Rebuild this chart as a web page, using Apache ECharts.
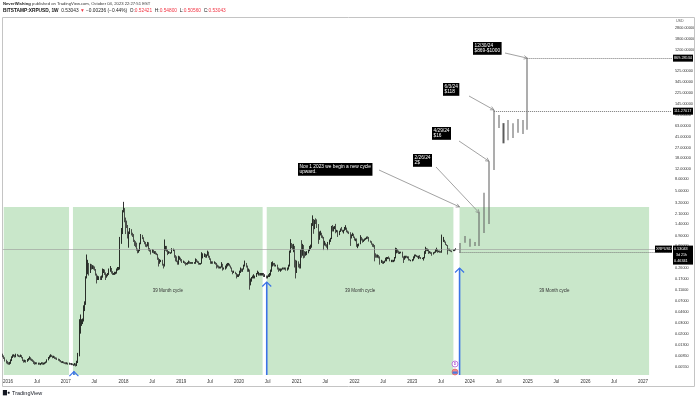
<!DOCTYPE html>
<html>
<head>
<meta charset="utf-8">
<script src="https://cdn.jsdelivr.net/npm/echarts@6/dist/echarts.min.js"></script>
<style>
  html, body { margin: 0; padding: 0; background: #fff; }
  #chart { width: 700px; height: 399px; }
</style>
</head>
<body>
<div id="chart"></div>
<script>
// BITSTAMP:XRPUSD weekly candles, one array per calendar year, each week is [close, high, low]
// (open of a week = close of the week before)
const firstOpen = 0.0088;
const yearStarts = ['2015-11-30', '2016-01-04', '2017-01-02', '2018-01-01', '2019-01-07',
    '2020-01-06', '2021-01-04', '2022-01-03', '2023-01-02'];

const w2015 = [[0.0084,0.0092,0.0080],[0.0079,0.0086,0.0075],[0.0072,0.0080,0.0068],[0.0067,0.0073,0.0063],[0.0064,0.0069,0.0061]];
const w2016 = [
    [0.0063,0.0066,0.0060],[0.0064,0.0067,0.0060],[0.0071,0.0074,0.0062],[0.0080,0.0083,0.0069],
    [0.0085,0.0089,0.0078],[0.0086,0.0090,0.0082],[0.0082,0.0088,0.0079],[0.0088,0.0092,0.0080],
    [0.0086,0.0091,0.0083],[0.0084,0.0088,0.0081],[0.0083,0.0086,0.0080],[0.0086,0.0089,0.0081],
    [0.0080,0.0087,0.0077],[0.0072,0.0081,0.0069],[0.0068,0.0073,0.0065],[0.0070,0.0073,0.0066],
    [0.0068,0.0072,0.0065],[0.0072,0.0075,0.0067],[0.0075,0.0078,0.0070],[0.0079,0.0083,0.0073],[0.0074,0.0080,0.0071],
    [0.0072,0.0076,0.0069],[0.0070,0.0074,0.0067],[0.0066,0.0071,0.0062],[0.0064,0.0068,0.0060],
    [0.0064,0.0066,0.0061],[0.0063,0.0066,0.0061],[0.0063,0.0065,0.0060],[0.0062,0.0065,0.0060],
    [0.0062,0.0064,0.0059],[0.0064,0.0066,0.0061],[0.0062,0.0066,0.0060],[0.0063,0.0065,0.0060],[0.0064,0.0066,0.0061],
    [0.0066,0.0068,0.0063],[0.0072,0.0074,0.0065],[0.0078,0.0081,0.0071],[0.0082,0.0086,0.0076],
    [0.0086,0.0090,0.0080],[0.0084,0.0088,0.0081],[0.0080,0.0085,0.0077],[0.0082,0.0085,0.0078],[0.0078,0.0083,0.0075],
    [0.0077,0.0080,0.0074],[0.0075,0.0079,0.0072],[0.0073,0.0076,0.0070],[0.0071,0.0075,0.0068],
    [0.0068,0.0072,0.0066],[0.0066,0.0069,0.0064],[0.0067,0.0069,0.0064],[0.0065,0.0068,0.0063],[0.0064,0.0066,0.0062]];
const w2017 = [
    [0.0063,0.0066,0.0061],[0.0064,0.0066,0.0061],[0.0062,0.0065,0.0060],[0.0063,0.0065,0.0060],[0.0062,0.0064,0.0060],
    [0.0062,0.0064,0.0059],[0.0061,0.0063,0.0059],[0.0060,0.0062,0.0057],[0.0062,0.0064,0.0058],
    [0.0059,0.0063,0.0056],[0.0066,0.0070,0.0057],[0.0085,0.0095,0.0064],[0.0220,0.0350,0.0083],
    [0.0300,0.0420,0.0200],[0.0310,0.0350,0.0270],[0.0330,0.0360,0.0290],[0.0530,0.0600,0.0320],
    [0.0630,0.0700,0.0480],[0.1750,0.1850,0.0610],[0.2400,0.4300,0.1700],[0.3000,0.3500,0.2000],[0.2200,0.3100,0.1900],
    [0.2800,0.3000,0.2100],[0.2600,0.2950,0.2400],[0.2700,0.2850,0.2450],[0.2600,0.2800,0.2400],
    [0.2400,0.2700,0.2300],[0.2000,0.2450,0.1900],[0.1700,0.2050,0.1400],[0.1700,0.1900,0.1600],[0.1800,0.1850,0.1600],
    [0.1700,0.1850,0.1600],[0.1800,0.1900,0.1600],[0.2300,0.2500,0.1750],[0.2300,0.2450,0.2100],
    [0.2100,0.2400,0.1950],[0.1800,0.2150,0.1600],[0.1900,0.2000,0.1750],[0.2000,0.2100,0.1850],
    [0.2300,0.2500,0.1950],[0.2500,0.2750,0.2200],[0.2200,0.2550,0.2050],[0.2000,0.2250,0.1950],[0.2000,0.2100,0.1950],
    [0.2100,0.2200,0.1950],[0.2100,0.2200,0.2000],[0.2400,0.2500,0.2050],[0.2500,0.2650,0.2300],
    [0.2500,0.2650,0.2350],[0.7500,0.8500,0.2400],[1.0500,1.2000,0.6500],[2.3000,2.4000,0.9500]];
const w2018 = [
    [2.50,3.31,2.20],[1.70,2.60,1.50],[1.50,1.80,0.95],[1.30,1.60,1.20],[0.85,1.35,0.80],
    [0.99,1.05,0.56],[1.10,1.20,0.95],[0.95,1.15,0.90],[0.90,1.00,0.85],
    [0.72,0.95,0.70],[0.68,0.76,0.60],[0.64,0.72,0.57],[0.51,0.68,0.50],
    [0.49,0.54,0.45],[0.50,0.52,0.46],[0.66,0.68,0.49],[0.85,0.95,0.64],[0.82,0.92,0.78],
    [0.72,0.84,0.70],[0.68,0.73,0.64],[0.62,0.70,0.58],[0.60,0.64,0.57],
    [0.68,0.70,0.59],[0.53,0.69,0.50],[0.50,0.55,0.48],[0.47,0.52,0.43],
    [0.51,0.53,0.46],[0.46,0.52,0.45],[0.48,0.49,0.44],[0.45,0.49,0.43],[0.43,0.46,0.42],
    [0.37,0.44,0.35],[0.31,0.38,0.27],[0.33,0.36,0.30],[0.33,0.35,0.32],
    [0.29,0.35,0.28],[0.27,0.30,0.25],[0.57,0.77,0.27],[0.58,0.60,0.50],
    [0.51,0.60,0.48],[0.46,0.52,0.42],[0.47,0.49,0.44],[0.46,0.48,0.45],[0.46,0.47,0.44],
    [0.50,0.55,0.45],[0.52,0.54,0.49],[0.42,0.52,0.38],[0.38,0.42,0.33],
    [0.33,0.40,0.32],[0.30,0.34,0.29],[0.37,0.41,0.29],[0.37,0.40,0.35],[0.36,0.38,0.33]];
const w2019 = [
    [0.32,0.36,0.31],[0.33,0.34,0.31],[0.31,0.33,0.30],[0.30,0.32,0.28],
    [0.30,0.31,0.29],[0.31,0.32,0.29],[0.33,0.34,0.30],[0.31,0.33,0.30],
    [0.31,0.32,0.30],[0.31,0.32,0.30],[0.31,0.32,0.30],[0.31,0.32,0.30],
    [0.35,0.37,0.30],[0.33,0.36,0.32],[0.32,0.34,0.31],[0.30,0.33,0.29],[0.30,0.31,0.29],
    [0.30,0.31,0.29],[0.41,0.47,0.30],[0.41,0.45,0.37],[0.43,0.45,0.39],
    [0.40,0.44,0.38],[0.42,0.43,0.38],[0.45,0.50,0.41],[0.40,0.48,0.38],
    [0.36,0.41,0.35],[0.32,0.37,0.30],[0.32,0.33,0.30],[0.31,0.33,0.30],[0.32,0.33,0.30],
    [0.30,0.32,0.29],[0.29,0.31,0.25],[0.27,0.29,0.26],[0.26,0.28,0.25],
    [0.26,0.27,0.25],[0.26,0.27,0.25],[0.30,0.32,0.26],[0.25,0.30,0.23],[0.25,0.26,0.24],
    [0.25,0.28,0.24],[0.29,0.30,0.25],[0.29,0.31,0.27],[0.29,0.31,0.28],
    [0.27,0.30,0.27],[0.26,0.28,0.25],[0.23,0.26,0.22],[0.22,0.23,0.20],
    [0.22,0.23,0.21],[0.20,0.22,0.20],[0.19,0.21,0.17],[0.19,0.20,0.18],[0.19,0.20,0.18]];
const w2020 = [
    [0.22,0.23,0.19],[0.24,0.26,0.21],[0.23,0.25,0.22],[0.24,0.25,0.22],
    [0.28,0.29,0.24],[0.30,0.34,0.27],[0.28,0.31,0.26],[0.23,0.28,0.22],
    [0.24,0.25,0.22],[0.16,0.24,0.11],[0.16,0.17,0.13],[0.17,0.18,0.15],[0.18,0.19,0.17],
    [0.18,0.20,0.17],[0.19,0.19,0.17],[0.20,0.21,0.18],[0.21,0.23,0.20],
    [0.21,0.22,0.19],[0.20,0.21,0.19],[0.20,0.21,0.19],[0.20,0.21,0.19],
    [0.20,0.21,0.19],[0.19,0.21,0.18],[0.19,0.20,0.18],[0.18,0.19,0.17],[0.18,0.19,0.17],
    [0.19,0.20,0.18],[0.20,0.21,0.18],[0.23,0.24,0.19],[0.30,0.32,0.22],
    [0.30,0.33,0.27],[0.29,0.31,0.28],[0.28,0.31,0.27],[0.29,0.29,0.27],[0.25,0.29,0.24],
    [0.24,0.26,0.22],[0.24,0.25,0.23],[0.24,0.25,0.22],[0.24,0.25,0.23],
    [0.25,0.26,0.24],[0.24,0.26,0.24],[0.25,0.26,0.24],[0.24,0.26,0.23],
    [0.25,0.26,0.23],[0.28,0.29,0.24],[0.48,0.50,0.27],[0.63,0.78,0.46],[0.61,0.67,0.55],
    [0.56,0.64,0.52],[0.58,0.65,0.47],[0.33,0.60,0.26],[0.22,0.35,0.17]];
const w2021 = [
    [0.30,0.34,0.21],[0.29,0.33,0.26],[0.27,0.30,0.25],[0.50,0.52,0.25],
    [0.42,0.75,0.38],[0.60,0.65,0.41],[0.48,0.62,0.37],[0.43,0.49,0.38],
    [0.45,0.48,0.41],[0.47,0.49,0.42],[0.50,0.52,0.45],[0.55,0.60,0.49],[0.58,0.63,0.53],
    [1.40,1.45,0.56],[1.60,1.96,1.30],[1.20,1.70,0.96],[1.55,1.65,1.15],
    [1.50,1.75,1.40],[1.35,1.68,1.20],[0.90,1.40,0.65],[0.95,1.05,0.76],[0.95,1.08,0.90],
    [0.88,1.00,0.82],[0.84,0.90,0.80],[0.65,0.85,0.51],[0.66,0.73,0.61],
    [0.62,0.68,0.59],[0.58,0.64,0.56],[0.65,0.70,0.51],[0.74,0.77,0.63],
    [0.80,0.82,0.70],[1.20,1.30,0.78],[1.10,1.35,1.05],[1.20,1.27,1.05],[1.20,1.30,1.15],
    [1.05,1.41,0.98],[1.08,1.12,1.02],[0.93,1.10,0.85],[1.05,1.08,0.91],
    [1.15,1.18,1.03],[1.10,1.25,1.08],[1.05,1.12,1.02],[1.10,1.12,0.97],
    [1.15,1.25,1.08],[1.23,1.34,1.12],[1.05,1.22,1.02],[1.03,1.09,0.98],[1.00,1.05,0.95],
    [0.90,1.02,0.60],[0.92,0.94,0.80],[0.93,1.00,0.88],[0.83,0.96,0.82]];
const w2022 = [
    [0.75,0.86,0.74],[0.77,0.80,0.72],[0.62,0.80,0.58],[0.62,0.65,0.55],[0.65,0.66,0.59],
    [0.82,0.91,0.64],[0.78,0.85,0.74],[0.72,0.80,0.68],[0.75,0.77,0.70],
    [0.78,0.80,0.73],[0.80,0.82,0.76],[0.83,0.86,0.78],[0.81,0.87,0.79],
    [0.73,0.85,0.71],[0.70,0.74,0.68],[0.64,0.72,0.63],[0.62,0.66,0.58],
    [0.60,0.65,0.57],[0.43,0.62,0.33],[0.41,0.45,0.38],[0.40,0.43,0.38],[0.41,0.43,0.38],
    [0.39,0.42,0.37],[0.32,0.40,0.29],[0.33,0.35,0.31],[0.31,0.34,0.30],
    [0.32,0.33,0.30],[0.32,0.34,0.31],[0.35,0.38,0.33],[0.37,0.39,0.33],
    [0.38,0.39,0.36],[0.37,0.40,0.36],[0.34,0.38,0.33],[0.34,0.35,0.32],[0.33,0.35,0.32],
    [0.33,0.35,0.32],[0.38,0.39,0.33],[0.49,0.56,0.37],[0.49,0.55,0.45],
    [0.48,0.53,0.46],[0.46,0.50,0.44],[0.46,0.48,0.44],[0.47,0.48,0.45],[0.39,0.48,0.38],
    [0.36,0.40,0.31],[0.40,0.41,0.35],[0.40,0.41,0.37],[0.39,0.41,0.38],
    [0.39,0.40,0.37],[0.35,0.40,0.34],[0.34,0.36,0.34],[0.34,0.35,0.33]];
const w2023 = [
    [0.35,0.36,0.33],[0.39,0.40,0.34],[0.41,0.43,0.37],[0.41,0.43,0.40],[0.40,0.42,0.39],
    [0.39,0.41,0.38],[0.40,0.41,0.36],[0.38,0.42,0.37],[0.37,0.39,0.36],
    [0.37,0.38,0.36],[0.37,0.39,0.34],[0.45,0.49,0.37],[0.54,0.58,0.44],
    [0.51,0.55,0.49],[0.52,0.54,0.49],[0.46,0.53,0.44],[0.48,0.49,0.45],
    [0.46,0.48,0.44],[0.43,0.47,0.41],[0.46,0.47,0.43],[0.47,0.48,0.45],[0.51,0.53,0.46],
    [0.52,0.56,0.48],[0.49,0.53,0.46],[0.49,0.50,0.47],[0.48,0.50,0.46],
    [0.47,0.49,0.46],[0.71,0.93,0.46],[0.75,0.85,0.70],[0.70,0.76,0.68],[0.63,0.71,0.62],
    [0.62,0.64,0.60],[0.53,0.62,0.43],[0.52,0.54,0.50],[0.51,0.54,0.49],
    [0.50,0.51,0.48],[0.49,0.50,0.47],[0.51,0.52,0.49],[0.52421,0.53,0.49],
    [0.53043,0.54800,0.50560]];
const yearWeeks = [w2015, w2016, w2017, w2018, w2019, w2020, w2021, w2022, w2023];

// projected path drawn on the chart (monthly bars, low / high)
const projDates = ['2023-11-01','2023-12-01','2024-01-01','2024-02-01','2024-03-01','2024-04-01','2024-05-01',
    '2024-06-01','2024-07-01','2024-08-01','2024-09-01','2024-10-01','2024-11-01','2024-12-01','2024-12-30'];
const projLow  = [0.46, 0.68, 0.58, 0.60, 0.60, 0.99, 1.4, 11.4, 58, 32, 36, 39.5, 48, 46, 54];
const projHigh = [0.67, 0.88, 0.79, 0.70, 2.15, 4.7, 16, 117, 96, 70, 79, 70, 82, 79, 869.28534];

// 39 month cycle boxes
const cycleStarts = ['2015-12-05', '2017-02-15', '2020-06-25', '2023-10-28'];
const cycleEnds   = ['2017-01-21', '2020-05-30', '2023-09-19', '2027-02-08'];
const cycleNames  = ['', '39 Month cycle', '39 Month cycle', '39 Month cycle'];
const cycleTop = 2.72;
const cycleArrows = [['2017-02-21', 0.0046], ['2020-06-25', 0.148], ['2023-10-28', 0.255]];

// axis ticks
const xTickDates = ['2016-01-01','2016-07-01','2017-01-01','2017-07-01','2018-01-01','2018-07-01','2019-01-01',
    '2019-07-01','2020-01-01','2020-07-01','2021-01-01','2021-07-01','2022-01-01','2022-07-01','2023-01-01',
    '2023-07-01','2024-01-01','2024-07-01','2025-01-01','2025-07-01','2026-01-01','2026-07-01','2027-01-01'];
const yTicks = [0.0055, 0.0085, 0.013, 0.02, 0.03, 0.046, 0.07, 0.11, 0.17, 0.26, 0.6, 0.9, 1.4, 2.1, 3.2,
    5, 8, 12, 18, 27, 41, 63, 95, 145, 225, 345, 525, 1200, 1800, 2800];

const lastClose = 0.53043;
const supportLevel = 0.46341;
const levels = [['2024-12-30', 869.28534], ['2024-06-01', 111.27017]];

const notes = [
    { lines: ['Nov 1 2023 we begin a new cycle', 'upward.'], box: [298, 163], from: [379, 170], tip: ['2023-10-28', 2.72] },
    { lines: ['2/26/24', '2$'], box: [413, 154], from: [436, 167], tip: ['2024-03-01', 2.15] },
    { lines: ['4/29/24', '$16'], box: [432, 127], from: [459, 141], tip: ['2024-05-01', 16] },
    { lines: ['6/3/24', '$118'], box: [443, 83], from: [469, 96], tip: ['2024-06-01', 117] },
    { lines: ['12/30/24', '$869-$1000'], box: [473, 42], from: [505, 53], tip: ['2024-12-30', 869.28534] }
];

const DAY = 864e5;
const FONT = 'Liberation Sans';
function ts(s) { return Date.parse(s + 'T00:00:00Z'); }
function lg(p) { return Math.log10(p); }

let candles = [];
let prev = firstOpen;
yearStarts.forEach(function (s, k) {
    yearWeeks[k].forEach(function (w, i) {
        candles.push([ts(s) + i * 7 * DAY, lg(prev), lg(w[0]), lg(w[2]), lg(w[1])]);
        prev = w[0];
    });
});
let proj = projDates.map(function (d, i) {
    return [ts(d), lg(projLow[i]), lg(projHigh[i]), lg(projLow[i]), lg(projHigh[i])];
});

const xMin = ts('2015-11-29'), xMax = ts('2027-07-03');
const yMin = -2.395, yMax = 3.615;

let chart = echarts.init(document.getElementById('chart'));
chart.setOption({
    animation: false,
    grid: { left: 2, right: 28, top: 18, bottom: 24 },
    xAxis: {
        type: 'value', min: xMin, max: xMax,
        axisLine: { show: false }, axisTick: { show: false }, splitLine: { show: false },
        axisLabel: {
            customValues: xTickDates.map(ts), margin: 4, fontSize: 4.5, color: '#333', fontFamily: FONT,
            formatter: function (v) {
                let d = new Date(v);
                return d.getUTCMonth() === 0 ? String(d.getUTCFullYear()) : 'Jul';
            }
        }
    },
    yAxis: {
        type: 'value', position: 'right', min: yMin, max: yMax,
        axisLine: { show: false }, axisTick: { show: false }, splitLine: { show: false },
        axisLabel: {
            customValues: yTicks.map(lg), margin: 3, align: 'left', fontSize: 3.8, color: '#333', fontFamily: FONT,
            formatter: function (v) { return Math.pow(10, v).toFixed(5); }
        }
    },
    series: [
        {
            type: 'candlestick', name: 'XRPUSD', data: candles, barWidth: 1.3,
            itemStyle: { color: '#000', color0: '#2a2a2a', borderColor: '#000', borderColor0: '#2a2a2a', borderWidth: 0.8 },
            markArea: {
                silent: true,
                itemStyle: { color: 'rgba(76,175,80,0.3)' },
                label: { position: 'inside', color: '#333', fontSize: 4.5, fontFamily: FONT },
                data: cycleStarts.map(function (s, i) {
                    return [{ name: cycleNames[i], xAxis: ts(s), yAxis: lg(cycleTop) }, { xAxis: ts(cycleEnds[i]), yAxis: yMin }];
                })
            },
            markLine: {
                silent: true, symbol: ['none', 'none'], label: { show: false },
                data: [
                    { yAxis: lg(lastClose), lineStyle: { type: 'solid', color: '#9a9a9a', width: 0.6 } },
                    [{ coord: [ts('2023-10-28'), lg(supportLevel)], lineStyle: { type: 'dotted', color: '#777', width: 1 } },
                     { coord: [xMax, lg(supportLevel)] }]
                ].concat(levels.map(function (l) {
                    return [{ coord: [ts(l[0]), lg(l[1])], lineStyle: { type: 'dotted', color: '#777', width: 1 } },
                            { coord: [xMax, lg(l[1])] }];
                }))
            }
        },
        {
            type: 'candlestick', name: 'projection', data: proj, barWidth: 1.6,
            itemStyle: { color: '#5c5c5c', color0: '#5c5c5c', borderColor: '#5c5c5c', borderColor0: '#5c5c5c', borderWidth: 0 }
        }
    ]
});

function px(date, price) {
    return chart.convertToPixel({ gridIndex: 0 }, [typeof date === 'string' ? ts(date) : date, lg(price)]);
}

let g = [];
// frame
g.push({ type: 'rect', shape: { x: 2.5, y: 17.5, width: 692, height: 369 }, style: { fill: null, stroke: '#c4c4c4', lineWidth: 1 }, z: 1 });

// header
g.push({ type: 'text', x: 3, y: 1.5, style: {
    text: '{b|NeverWishing} published on TradingView.com, October 04, 2023 22:27:51 EST',
    font: '4.2px ' + FONT, fill: '#333', rich: { b: { fontWeight: 'bold', fontSize: 4.2, fill: '#222' } } } });
g.push({ type: 'text', x: 3, y: 8.5, style: {
    text: '{b|BITSTAMP:XRPUSD, 1W}  0.53043 {r|\u25BC} \u22120.00236 (\u22120.44%)  O:{r|0.52421}  H:{r|0.54800}  L:{r|0.50560}  C:{r|0.53043}',
    font: '4.8px ' + FONT, fill: '#222',
    rich: { b: { fontWeight: 'bold', fontSize: 4.8, fill: '#111' }, r: { fill: '#f23645', fontSize: 4.8 } } } });

// USD caption
g.push({ type: 'text', x: 676, y: 19, style: { text: 'USD', font: '3.6px ' + FONT, fill: '#555' } });

// blue cycle arrows
const gridBottom = 375;
cycleArrows.forEach(function (a) {
    let p = px(a[0], a[1]);
    g.push({ type: 'line', shape: { x1: p[0], y1: gridBottom, x2: p[0], y2: p[1] }, style: { stroke: '#3b73e6', lineWidth: 1.6 }, z: 5 });
    g.push({ type: 'polyline', shape: { points: [[p[0] - 4.5, p[1] + 4.5], [p[0], p[1]], [p[0] + 4.5, p[1] + 4.5]] },
        style: { stroke: '#3b73e6', lineWidth: 1.2, fill: null }, z: 5 });
});

// callouts
notes.forEach(function (n) {
    let tip = px(n.tip[0], n.tip[1]);
    let dx = tip[0] - n.from[0], dy = tip[1] - n.from[1];
    let len = Math.sqrt(dx * dx + dy * dy), ux = dx / len, uy = dy / len;
    g.push({ type: 'line', shape: { x1: n.from[0], y1: n.from[1], x2: tip[0], y2: tip[1] }, style: { stroke: '#7a7a7a', lineWidth: 0.7 }, z: 6 });
    g.push({ type: 'polyline', shape: { points: [
        [tip[0] - ux * 3.5 - uy * 1.8, tip[1] - uy * 3.5 + ux * 1.8], [tip[0], tip[1]],
        [tip[0] - ux * 3.5 + uy * 1.8, tip[1] - uy * 3.5 - ux * 1.8]] },
        style: { stroke: '#7a7a7a', lineWidth: 0.7, fill: null }, z: 6 });
    g.push({ type: 'text', x: n.box[0], y: n.box[1], z: 7, style: {
        text: n.lines.join('\n'), font: '4.8px ' + FONT, fill: '#fff', lineHeight: 5.4,
        backgroundColor: '#000', padding: [1, 1.5] } });
});

// price scale tags
function tag(x, y, text, w) {
    g.push({ type: 'rect', shape: { x: x, y: y - 3.5, width: w, height: 7 }, style: { fill: '#000' }, z: 8 });
    g.push({ type: 'text', x: x + 1, y: y, z: 9, style: { text: text, font: '3.8px ' + FONT, fill: '#fff', verticalAlign: 'middle' } });
}
levels.forEach(function (l) {
    let p = px(l[0], l[1]);
    tag(673, p[1], l[1].toFixed(5), 20);
});
let pc = px(xMax, lastClose);
tag(655, pc[1], 'XRPUSD', 17);
g.push({ type: 'rect', shape: { x: 673, y: pc[1] - 3.5, width: 20, height: 19 }, style: { fill: '#000' }, z: 8 });
g.push({ type: 'text', x: 674, y: pc[1], z: 9, style: { text: lastClose.toFixed(5), font: '3.8px ' + FONT, fill: '#fff', verticalAlign: 'middle' } });
g.push({ type: 'text', x: 676, y: pc[1] + 6, z: 9, style: { text: '3d 21h', font: '3.6px ' + FONT, fill: '#fff', verticalAlign: 'middle' } });
g.push({ type: 'text', x: 674, y: pc[1] + 12, z: 9, style: { text: supportLevel.toFixed(5), font: '3.8px ' + FONT, fill: '#fff', verticalAlign: 'middle' } });

// event markers near the last candle
g.push({ type: 'circle', shape: { cx: 455, cy: 364, r: 3 }, style: { fill: '#fff', stroke: '#b25bd6', lineWidth: 0.8 }, z: 6 });
g.push({ type: 'text', x: 455, y: 364, z: 7, style: { text: 'D', font: 'bold 3.5px ' + FONT, fill: '#b25bd6', align: 'center', verticalAlign: 'middle' } });
g.push({ type: 'circle', shape: { cx: 455, cy: 372, r: 3 }, style: { fill: '#f08a8a', stroke: '#e05555', lineWidth: 0.6 }, z: 6 });
g.push({ type: 'rect', shape: { x: 452.5, y: 371.5, width: 5, height: 2.2 }, style: { fill: '#4a7be0' }, z: 7 });

// TradingView footer
g.push({ type: 'text', x: 3, y: 390.5, style: { text: '\u2587\u25CF', font: 'bold 5px ' + FONT, fill: '#131722' } });
g.push({ type: 'text', x: 12, y: 390.5, style: { text: 'TradingView', font: '5.5px ' + FONT, fill: '#131722' } });

chart.setOption({ graphic: { elements: g } });
</script>
</body>
</html>
